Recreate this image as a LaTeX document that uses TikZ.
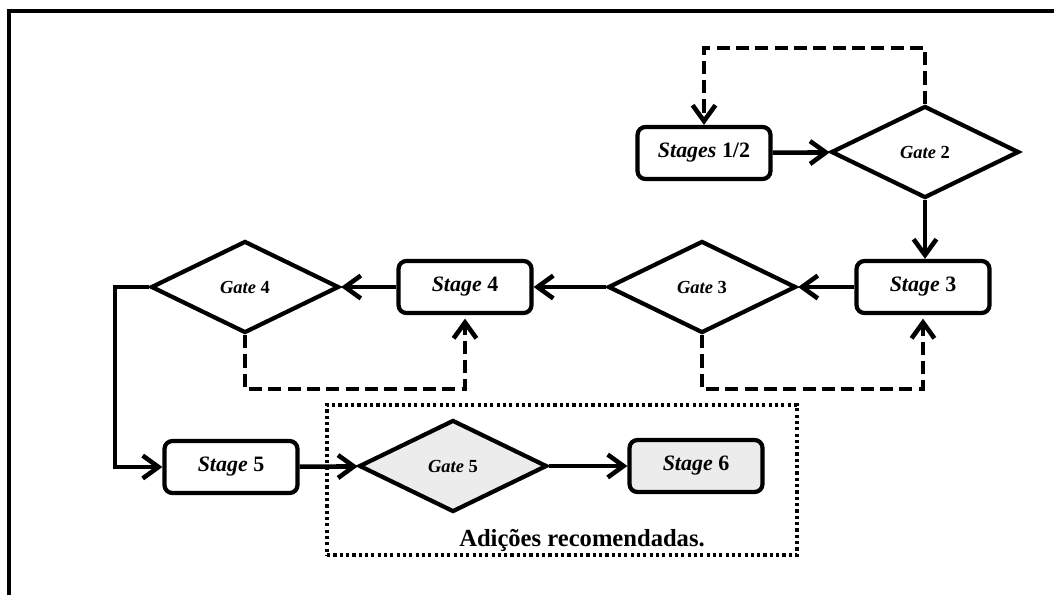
\documentclass[tikz,border=0pt]{standalone}
\usepackage{fontspec}
\setmainfont{Liberation Serif}
\usetikzlibrary{shapes.geometric,arrows.meta}
\definecolor{addfill}{RGB}{236,236,236}
\tikzset{
  stagebox/.style={draw, line width=2.4pt, rounded corners=4.5pt, minimum width=2.66cm, minimum height=1.04cm, inner sep=0pt, font=\fontsize{12.5}{14}\selectfont\bfseries},
  gatebox/.style={draw, diamond, line width=2.4pt, minimum width=3.76cm, minimum height=1.84cm, inner sep=0pt, font=\fontsize{10.5}{12}\selectfont\bfseries},
  flow/.style={line width=2.6pt, -{Straight Barb[length=9pt,width=13pt]}},
  backflow/.style={flow, dash pattern=on 7.5pt off 3.5pt},
}
\begin{document}
\begin{tikzpicture}[x=0.02cm,y=-0.02cm]
\useasboundingbox (0,0) rectangle (1054,595);
\draw[line width=2.6pt] (9,595) -- (9,11) -- (1054,11);
\node[draw, line width=1.8pt, dash pattern=on 1.8pt off 1.8pt, minimum width=9.4cm, minimum height=3cm] (recom) at (562,480) {};
\node[font=\fontsize{14}{16}\selectfont\bfseries] (recomtxt) at (582,540) {Adições recomendadas.};
\node[stagebox] (s12) at (704,153) {\textit{Stages} 1/2};
\node[gatebox] (g2) at (925,152) {\textit{Gate} 2};
\node[stagebox] (s3) at (923,287) {\textit{Stage} 3};
\node[gatebox] (g3) at (702,287) {\textit{Gate} 3};
\node[stagebox] (s4) at (465,287) {\textit{Stage} 4};
\node[gatebox] (g4) at (245,287) {\textit{Gate} 4};
\node[stagebox] (s5) at (231,467) {\textit{Stage} 5};
\node[gatebox, fill=addfill] (g5) at (453,466) {\textit{Gate} 5};
\node[stagebox, fill=addfill] (s6) at (696,466) {\textit{Stage} 6};
\coordinate (bend) at (115,287);
\draw[flow] (s12) -- (g2);
\draw[flow] (g2.south) -- (g2.south |- s3.north);
\draw[flow] (s3) -- (g3);
\draw[flow] (g3) -- (s4);
\draw[flow] (s4) -- (g4);
\draw[flow] (g4.west) -- (bend) |- (s5.west);
\draw[flow] (s5) -- (g5);
\draw[flow] (g5) -- (s6);
\draw[backflow] (g2.north) -- ++(0,-56) -| (s12.north);
\draw[backflow] (g3.south) -- ++(0,54) -| ([yshift=-2pt]s3.south);
\draw[backflow] (g4.south) -- ++(0,54) -| ([yshift=-2pt]s4.south);
\end{tikzpicture}
\end{document}
